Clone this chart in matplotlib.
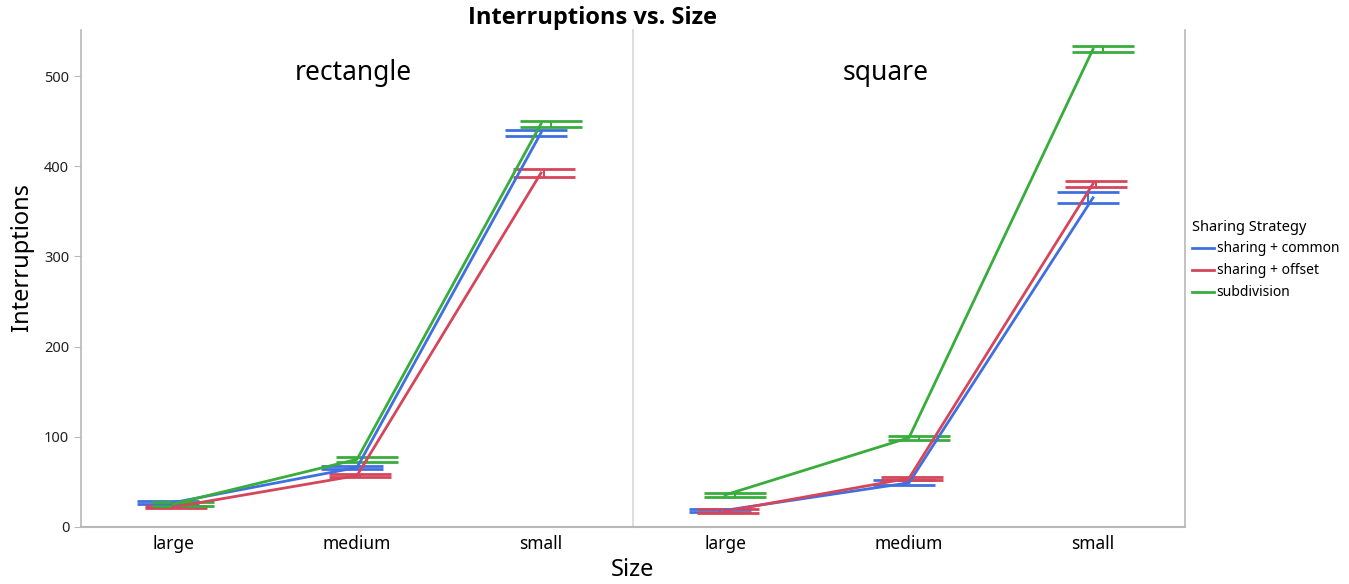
import numpy as np
import matplotlib.pyplot as plt
from matplotlib.lines import Line2D

plt.rcParams['font.family'] = ['Noto Sans', 'DejaVu Sans']

sizes = ['large', 'medium', 'small']
shapes = ['rectangle', 'square']
strategies = ['sharing + common', 'sharing + offset', 'subdivision']
colores = ['#4070E0', '#D6465A', '#38AD3C']

# medias y error estandar por forma (filas = estrategia, columnas = tamano)
rect_mean = [[27.0, 66.0, 437.0],
             [22.0, 57.0, 392.5],
             [25.5, 75.0, 447.0]]
rect_err = [[1.8, 1.9, 3.3],
            [1.3, 1.9, 4.1],
            [2.5, 2.8, 3.1]]
square_mean = [[18.5, 49.0, 365.0],
               [17.4, 54.0, 380.5],
               [35.5, 99.0, 529.7]]
square_err = [[1.5, 2.8, 6.0],
              [2.2, 1.9, 3.2],
              [2.6, 2.4, 3.6]]

datos = {'rectangle': (rect_mean, rect_err), 'square': (square_mean, square_err)}

fig = plt.figure(figsize=(13.49, 5.84), dpi=100)
W, H = 1349, 584
left, right, top, bottom = 81, 1185, 30, 527
mid = 633
axes = []
for k, (x0, x1) in enumerate([(left, mid), (mid, right)]):
    ax = fig.add_axes([x0 / W, (H - bottom) / H, (x1 - x0) / W, (bottom - top) / H],
                      sharey=axes[0] if axes else None)
    ax.patch.set_visible(False)
    axes.append(ax)

# posicion horizontal (px) de la etiqueta de cada panel
posEtiqueta = [353, 886]

grisEje = '#B8B8B8'
x = np.arange(len(sizes))
for k, (ax, forma) in enumerate(zip(axes, shapes)):
    medias, errores = datos[forma]
    for j, (nombre, color) in enumerate(zip(strategies, colores)):
        m = np.array(medias[j])
        e = np.array(errores[j])
        # la linea pasa por el centro de la categoria, las barras de error van desplazadas
        ax.plot(x, m, color=color, lw=2, zorder=3)
        xs = x + 0.015 + (j - 1) * 0.041
        for xi, mi, ei in zip(xs, m, e):
            ax.hlines([mi - ei, mi + ei], xi - 0.168, xi + 0.168, color=color, lw=2, zorder=2)
            ax.vlines(xi, mi - ei, mi + ei, color=color, lw=1.5, zorder=2)
    ax.set_xlim(-0.5, 2.5)
    ax.set_ylim(0, 551)
    ax.set_xticks(x)
    ax.set_xticklabels(sizes, fontsize=12.5)
    ax.tick_params(axis='x', length=0, pad=6)
    fig.text(posEtiqueta[k] / W, 1 - 73 / H, forma, ha='center', va='center', fontsize=19)
    ax.spines['top'].set_visible(False)
    ax.spines['bottom'].set_color(grisEje)
    ax.spines['bottom'].set_linewidth(1.5)
    if k == 0:
        ax.spines['left'].set_color(grisEje)
        ax.spines['left'].set_linewidth(1.2)
        ax.spines['right'].set_color('#D8D8D8')
        ax.spines['right'].set_linewidth(1.2)
        ax.set_yticks([0, 100, 200, 300, 400, 500])
        ax.tick_params(axis='y', labelsize=10.5, colors='#222222', length=5)
        ax.tick_params(axis='y', color=grisEje)
        ax.set_ylabel('Interruptions', fontsize=17)
        ax.yaxis.set_label_coords((34 - left) / (mid - left), 0.543)
    else:
        ax.spines['left'].set_visible(False)
        ax.spines['right'].set_color(grisEje)
        ax.spines['right'].set_linewidth(1.2)
        ax.tick_params(axis='y', left=False, labelleft=False)

fig.text(592 / W, 1 - 18 / H, 'Interruptions vs. Size', ha='center', va='center',
         fontsize=17, fontweight='bold', family=['Open Sans', 'DejaVu Sans'])
fig.text(632 / W, 1 - 570 / H, 'Size', ha='center', va='center', fontsize=17)

handles = [Line2D([0], [0], color=c, lw=2) for c in colores]
leg = fig.legend(handles, strategies, title='Sharing Strategy', loc='upper left',
                 bbox_to_anchor=(1186 / W, 1 - 214 / H), frameon=False,
                 fontsize=10, title_fontsize=10.5, handlelength=1.6,
                 handletextpad=0.2, labelspacing=0.5, borderaxespad=0)
leg._legend_box.align = 'left'

fig.savefig('out.png', dpi=100)
